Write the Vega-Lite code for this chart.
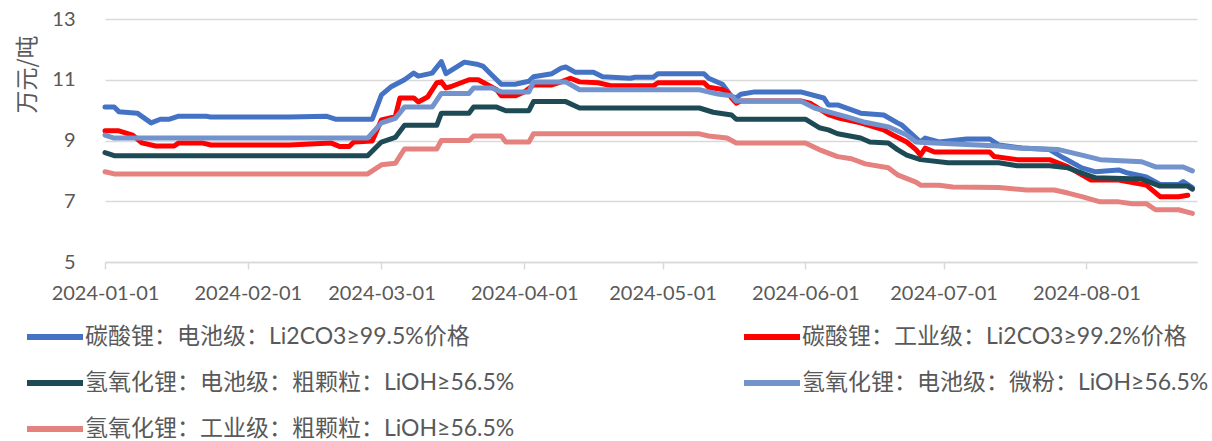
{
  "$schema": "https://vega.github.io/schema/vega-lite/v6.json",
  "width": 1092,
  "height": 243,
  "autosize": {"type": "none"},
  "padding": {"left": 105, "top": 19, "right": 15, "bottom": 179},
  "background": "white",
  "config": {"view": {"stroke": null}},
  "data": {"values": [
    {"series":"碳酸锂：电池级：Li2CO3≥99.5%价格","date":"2024-01-01","price":10.1},
    {"series":"碳酸锂：电池级：Li2CO3≥99.5%价格","date":"2024-01-03","price":10.1},
    {"series":"碳酸锂：电池级：Li2CO3≥99.5%价格","date":"2024-01-04","price":9.95},
    {"series":"碳酸锂：电池级：Li2CO3≥99.5%价格","date":"2024-01-08","price":9.9},
    {"series":"碳酸锂：电池级：Li2CO3≥99.5%价格","date":"2024-01-11","price":9.58},
    {"series":"碳酸锂：电池级：Li2CO3≥99.5%价格","date":"2024-01-13","price":9.7},
    {"series":"碳酸锂：电池级：Li2CO3≥99.5%价格","date":"2024-01-15","price":9.7},
    {"series":"碳酸锂：电池级：Li2CO3≥99.5%价格","date":"2024-01-17","price":9.8},
    {"series":"碳酸锂：电池级：Li2CO3≥99.5%价格","date":"2024-01-23","price":9.8},
    {"series":"碳酸锂：电池级：Li2CO3≥99.5%价格","date":"2024-01-24","price":9.77},
    {"series":"碳酸锂：电池级：Li2CO3≥99.5%价格","date":"2024-02-10","price":9.77},
    {"series":"碳酸锂：电池级：Li2CO3≥99.5%价格","date":"2024-02-18","price":9.8},
    {"series":"碳酸锂：电池级：Li2CO3≥99.5%价格","date":"2024-02-20","price":9.7},
    {"series":"碳酸锂：电池级：Li2CO3≥99.5%价格","date":"2024-02-28","price":9.7},
    {"series":"碳酸锂：电池级：Li2CO3≥99.5%价格","date":"2024-02-29","price":10.1},
    {"series":"碳酸锂：电池级：Li2CO3≥99.5%价格","date":"2024-03-01","price":10.5},
    {"series":"碳酸锂：电池级：Li2CO3≥99.5%价格","date":"2024-03-03","price":10.76},
    {"series":"碳酸锂：电池级：Li2CO3≥99.5%价格","date":"2024-03-06","price":11.0},
    {"series":"碳酸锂：电池级：Li2CO3≥99.5%价格","date":"2024-03-08","price":11.22},
    {"series":"碳酸锂：电池级：Li2CO3≥99.5%价格","date":"2024-03-09","price":11.12},
    {"series":"碳酸锂：电池级：Li2CO3≥99.5%价格","date":"2024-03-12","price":11.22},
    {"series":"碳酸锂：电池级：Li2CO3≥99.5%价格","date":"2024-03-14","price":11.6},
    {"series":"碳酸锂：电池级：Li2CO3≥99.5%价格","date":"2024-03-15","price":11.2},
    {"series":"碳酸锂：电池级：Li2CO3≥99.5%价格","date":"2024-03-19","price":11.58},
    {"series":"碳酸锂：电池级：Li2CO3≥99.5%价格","date":"2024-03-22","price":11.5},
    {"series":"碳酸锂：电池级：Li2CO3≥99.5%价格","date":"2024-03-23","price":11.45},
    {"series":"碳酸锂：电池级：Li2CO3≥99.5%价格","date":"2024-03-25","price":11.15},
    {"series":"碳酸锂：电池级：Li2CO3≥99.5%价格","date":"2024-03-27","price":10.85},
    {"series":"碳酸锂：电池级：Li2CO3≥99.5%价格","date":"2024-03-30","price":10.85},
    {"series":"碳酸锂：电池级：Li2CO3≥99.5%价格","date":"2024-04-02","price":10.95},
    {"series":"碳酸锂：电池级：Li2CO3≥99.5%价格","date":"2024-04-03","price":11.1},
    {"series":"碳酸锂：电池级：Li2CO3≥99.5%价格","date":"2024-04-07","price":11.2},
    {"series":"碳酸锂：电池级：Li2CO3≥99.5%价格","date":"2024-04-09","price":11.38},
    {"series":"碳酸锂：电池级：Li2CO3≥99.5%价格","date":"2024-04-10","price":11.42},
    {"series":"碳酸锂：电池级：Li2CO3≥99.5%价格","date":"2024-04-12","price":11.25},
    {"series":"碳酸锂：电池级：Li2CO3≥99.5%价格","date":"2024-04-16","price":11.25},
    {"series":"碳酸锂：电池级：Li2CO3≥99.5%价格","date":"2024-04-18","price":11.1},
    {"series":"碳酸锂：电池级：Li2CO3≥99.5%价格","date":"2024-04-24","price":11.05},
    {"series":"碳酸锂：电池级：Li2CO3≥99.5%价格","date":"2024-04-25","price":11.08},
    {"series":"碳酸锂：电池级：Li2CO3≥99.5%价格","date":"2024-04-29","price":11.08},
    {"series":"碳酸锂：电池级：Li2CO3≥99.5%价格","date":"2024-04-30","price":11.2},
    {"series":"碳酸锂：电池级：Li2CO3≥99.5%价格","date":"2024-05-10","price":11.2},
    {"series":"碳酸锂：电池级：Li2CO3≥99.5%价格","date":"2024-05-11","price":11.05},
    {"series":"碳酸锂：电池级：Li2CO3≥99.5%价格","date":"2024-05-14","price":10.85},
    {"series":"碳酸锂：电池级：Li2CO3≥99.5%价格","date":"2024-05-16","price":10.45},
    {"series":"碳酸锂：电池级：Li2CO3≥99.5%价格","date":"2024-05-17","price":10.4},
    {"series":"碳酸锂：电池级：Li2CO3≥99.5%价格","date":"2024-05-18","price":10.52},
    {"series":"碳酸锂：电池级：Li2CO3≥99.5%价格","date":"2024-05-21","price":10.6},
    {"series":"碳酸锂：电池级：Li2CO3≥99.5%价格","date":"2024-05-31","price":10.6},
    {"series":"碳酸锂：电池级：Li2CO3≥99.5%价格","date":"2024-06-05","price":10.4},
    {"series":"碳酸锂：电池级：Li2CO3≥99.5%价格","date":"2024-06-06","price":10.17},
    {"series":"碳酸锂：电池级：Li2CO3≥99.5%价格","date":"2024-06-08","price":10.17},
    {"series":"碳酸锂：电池级：Li2CO3≥99.5%价格","date":"2024-06-13","price":9.9},
    {"series":"碳酸锂：电池级：Li2CO3≥99.5%价格","date":"2024-06-18","price":9.84},
    {"series":"碳酸锂：电池级：Li2CO3≥99.5%价格","date":"2024-06-21","price":9.58},
    {"series":"碳酸锂：电池级：Li2CO3≥99.5%价格","date":"2024-06-22","price":9.5},
    {"series":"碳酸锂：电池级：Li2CO3≥99.5%价格","date":"2024-06-26","price":8.95},
    {"series":"碳酸锂：电池级：Li2CO3≥99.5%价格","date":"2024-06-27","price":9.08},
    {"series":"碳酸锂：电池级：Li2CO3≥99.5%价格","date":"2024-06-30","price":8.95},
    {"series":"碳酸锂：电池级：Li2CO3≥99.5%价格","date":"2024-07-06","price":9.05},
    {"series":"碳酸锂：电池级：Li2CO3≥99.5%价格","date":"2024-07-11","price":9.05},
    {"series":"碳酸锂：电池级：Li2CO3≥99.5%价格","date":"2024-07-13","price":8.85},
    {"series":"碳酸锂：电池级：Li2CO3≥99.5%价格","date":"2024-07-18","price":8.75},
    {"series":"碳酸锂：电池级：Li2CO3≥99.5%价格","date":"2024-07-24","price":8.7},
    {"series":"碳酸锂：电池级：Li2CO3≥99.5%价格","date":"2024-07-27","price":8.43},
    {"series":"碳酸锂：电池级：Li2CO3≥99.5%价格","date":"2024-07-31","price":8.1},
    {"series":"碳酸锂：电池级：Li2CO3≥99.5%价格","date":"2024-08-03","price":7.97},
    {"series":"碳酸锂：电池级：Li2CO3≥99.5%价格","date":"2024-08-08","price":8.03},
    {"series":"碳酸锂：电池级：Li2CO3≥99.5%价格","date":"2024-08-10","price":7.93},
    {"series":"碳酸锂：电池级：Li2CO3≥99.5%价格","date":"2024-08-14","price":7.8},
    {"series":"碳酸锂：电池级：Li2CO3≥99.5%价格","date":"2024-08-17","price":7.55},
    {"series":"碳酸锂：电池级：Li2CO3≥99.5%价格","date":"2024-08-21","price":7.55},
    {"series":"碳酸锂：电池级：Li2CO3≥99.5%价格","date":"2024-08-22","price":7.65},
    {"series":"碳酸锂：电池级：Li2CO3≥99.5%价格","date":"2024-08-24","price":7.45},

    {"series":"碳酸锂：工业级：Li2CO3≥99.2%价格","date":"2024-01-01","price":9.32},
    {"series":"碳酸锂：工业级：Li2CO3≥99.2%价格","date":"2024-01-04","price":9.32},
    {"series":"碳酸锂：工业级：Li2CO3≥99.2%价格","date":"2024-01-07","price":9.18},
    {"series":"碳酸锂：工业级：Li2CO3≥99.2%价格","date":"2024-01-09","price":8.92},
    {"series":"碳酸锂：工业级：Li2CO3≥99.2%价格","date":"2024-01-12","price":8.82},
    {"series":"碳酸锂：工业级：Li2CO3≥99.2%价格","date":"2024-01-16","price":8.82},
    {"series":"碳酸锂：工业级：Li2CO3≥99.2%价格","date":"2024-01-17","price":8.92},
    {"series":"碳酸锂：工业级：Li2CO3≥99.2%价格","date":"2024-01-22","price":8.92},
    {"series":"碳酸锂：工业级：Li2CO3≥99.2%价格","date":"2024-01-24","price":8.85},
    {"series":"碳酸锂：工业级：Li2CO3≥99.2%价格","date":"2024-02-10","price":8.85},
    {"series":"碳酸锂：工业级：Li2CO3≥99.2%价格","date":"2024-02-19","price":8.92},
    {"series":"碳酸锂：工业级：Li2CO3≥99.2%价格","date":"2024-02-21","price":8.8},
    {"series":"碳酸锂：工业级：Li2CO3≥99.2%价格","date":"2024-02-23","price":8.8},
    {"series":"碳酸锂：工业级：Li2CO3≥99.2%价格","date":"2024-02-24","price":8.95},
    {"series":"碳酸锂：工业级：Li2CO3≥99.2%价格","date":"2024-02-28","price":8.98},
    {"series":"碳酸锂：工业级：Li2CO3≥99.2%价格","date":"2024-03-01","price":9.68},
    {"series":"碳酸锂：工业级：Li2CO3≥99.2%价格","date":"2024-03-04","price":9.78},
    {"series":"碳酸锂：工业级：Li2CO3≥99.2%价格","date":"2024-03-05","price":10.4},
    {"series":"碳酸锂：工业级：Li2CO3≥99.2%价格","date":"2024-03-08","price":10.4},
    {"series":"碳酸锂：工业级：Li2CO3≥99.2%价格","date":"2024-03-09","price":10.27},
    {"series":"碳酸锂：工业级：Li2CO3≥99.2%价格","date":"2024-03-11","price":10.43},
    {"series":"碳酸锂：工业级：Li2CO3≥99.2%价格","date":"2024-03-13","price":10.9},
    {"series":"碳酸锂：工业级：Li2CO3≥99.2%价格","date":"2024-03-14","price":10.93},
    {"series":"碳酸锂：工业级：Li2CO3≥99.2%价格","date":"2024-03-15","price":10.73},
    {"series":"碳酸锂：工业级：Li2CO3≥99.2%价格","date":"2024-03-16","price":10.77},
    {"series":"碳酸锂：工业级：Li2CO3≥99.2%价格","date":"2024-03-20","price":11.0},
    {"series":"碳酸锂：工业级：Li2CO3≥99.2%价格","date":"2024-03-22","price":11.0},
    {"series":"碳酸锂：工业级：Li2CO3≥99.2%价格","date":"2024-03-26","price":10.67},
    {"series":"碳酸锂：工业级：Li2CO3≥99.2%价格","date":"2024-03-27","price":10.47},
    {"series":"碳酸锂：工业级：Li2CO3≥99.2%价格","date":"2024-03-30","price":10.47},
    {"series":"碳酸锂：工业级：Li2CO3≥99.2%价格","date":"2024-04-01","price":10.6},
    {"series":"碳酸锂：工业级：Li2CO3≥99.2%价格","date":"2024-04-03","price":10.83},
    {"series":"碳酸锂：工业级：Li2CO3≥99.2%价格","date":"2024-04-07","price":10.83},
    {"series":"碳酸锂：工业级：Li2CO3≥99.2%价格","date":"2024-04-09","price":10.93},
    {"series":"碳酸锂：工业级：Li2CO3≥99.2%价格","date":"2024-04-11","price":11.05},
    {"series":"碳酸锂：工业级：Li2CO3≥99.2%价格","date":"2024-04-13","price":10.93},
    {"series":"碳酸锂：工业级：Li2CO3≥99.2%价格","date":"2024-04-17","price":10.9},
    {"series":"碳酸锂：工业级：Li2CO3≥99.2%价格","date":"2024-04-20","price":10.8},
    {"series":"碳酸锂：工业级：Li2CO3≥99.2%价格","date":"2024-04-29","price":10.8},
    {"series":"碳酸锂：工业级：Li2CO3≥99.2%价格","date":"2024-04-30","price":10.9},
    {"series":"碳酸锂：工业级：Li2CO3≥99.2%价格","date":"2024-05-10","price":10.9},
    {"series":"碳酸锂：工业级：Li2CO3≥99.2%价格","date":"2024-05-11","price":10.75},
    {"series":"碳酸锂：工业级：Li2CO3≥99.2%价格","date":"2024-05-14","price":10.68},
    {"series":"碳酸锂：工业级：Li2CO3≥99.2%价格","date":"2024-05-15","price":10.6},
    {"series":"碳酸锂：工业级：Li2CO3≥99.2%价格","date":"2024-05-16","price":10.4},
    {"series":"碳酸锂：工业级：Li2CO3≥99.2%价格","date":"2024-05-17","price":10.23},
    {"series":"碳酸锂：工业级：Li2CO3≥99.2%价格","date":"2024-05-18","price":10.3},
    {"series":"碳酸锂：工业级：Li2CO3≥99.2%价格","date":"2024-05-31","price":10.3},
    {"series":"碳酸锂：工业级：Li2CO3≥99.2%价格","date":"2024-06-02","price":10.23},
    {"series":"碳酸锂：工业级：Li2CO3≥99.2%价格","date":"2024-06-06","price":9.85},
    {"series":"碳酸锂：工业级：Li2CO3≥99.2%价格","date":"2024-06-08","price":9.75},
    {"series":"碳酸锂：工业级：Li2CO3≥99.2%价格","date":"2024-06-13","price":9.58},
    {"series":"碳酸锂：工业级：Li2CO3≥99.2%价格","date":"2024-06-18","price":9.35},
    {"series":"碳酸锂：工业级：Li2CO3≥99.2%价格","date":"2024-06-20","price":9.18},
    {"series":"碳酸锂：工业级：Li2CO3≥99.2%价格","date":"2024-06-23","price":8.95},
    {"series":"碳酸锂：工业级：Li2CO3≥99.2%价格","date":"2024-06-25","price":8.7},
    {"series":"碳酸锂：工业级：Li2CO3≥99.2%价格","date":"2024-06-26","price":8.52},
    {"series":"碳酸锂：工业级：Li2CO3≥99.2%价格","date":"2024-06-27","price":8.75},
    {"series":"碳酸锂：工业级：Li2CO3≥99.2%价格","date":"2024-06-29","price":8.62},
    {"series":"碳酸锂：工业级：Li2CO3≥99.2%价格","date":"2024-07-11","price":8.62},
    {"series":"碳酸锂：工业级：Li2CO3≥99.2%价格","date":"2024-07-12","price":8.47},
    {"series":"碳酸锂：工业级：Li2CO3≥99.2%价格","date":"2024-07-17","price":8.37},
    {"series":"碳酸锂：工业级：Li2CO3≥99.2%价格","date":"2024-07-24","price":8.37},
    {"series":"碳酸锂：工业级：Li2CO3≥99.2%价格","date":"2024-07-28","price":8.13},
    {"series":"碳酸锂：工业级：Li2CO3≥99.2%价格","date":"2024-08-02","price":7.7},
    {"series":"碳酸锂：工业级：Li2CO3≥99.2%价格","date":"2024-08-08","price":7.7},
    {"series":"碳酸锂：工业级：Li2CO3≥99.2%价格","date":"2024-08-14","price":7.53},
    {"series":"碳酸锂：工业级：Li2CO3≥99.2%价格","date":"2024-08-17","price":7.15},
    {"series":"碳酸锂：工业级：Li2CO3≥99.2%价格","date":"2024-08-21","price":7.15},
    {"series":"碳酸锂：工业级：Li2CO3≥99.2%价格","date":"2024-08-23","price":7.2},

    {"series":"氢氧化锂：电池级：粗颗粒：LiOH≥56.5%","date":"2024-01-01","price":8.6},
    {"series":"氢氧化锂：电池级：粗颗粒：LiOH≥56.5%","date":"2024-01-03","price":8.5},
    {"series":"氢氧化锂：电池级：粗颗粒：LiOH≥56.5%","date":"2024-02-27","price":8.5},
    {"series":"氢氧化锂：电池级：粗颗粒：LiOH≥56.5%","date":"2024-03-01","price":8.95},
    {"series":"氢氧化锂：电池级：粗颗粒：LiOH≥56.5%","date":"2024-03-04","price":9.1},
    {"series":"氢氧化锂：电池级：粗颗粒：LiOH≥56.5%","date":"2024-03-06","price":9.5},
    {"series":"氢氧化锂：电池级：粗颗粒：LiOH≥56.5%","date":"2024-03-13","price":9.5},
    {"series":"氢氧化锂：电池级：粗颗粒：LiOH≥56.5%","date":"2024-03-14","price":9.9},
    {"series":"氢氧化锂：电池级：粗颗粒：LiOH≥56.5%","date":"2024-03-20","price":9.9},
    {"series":"氢氧化锂：电池级：粗颗粒：LiOH≥56.5%","date":"2024-03-21","price":10.1},
    {"series":"氢氧化锂：电池级：粗颗粒：LiOH≥56.5%","date":"2024-03-26","price":10.1},
    {"series":"氢氧化锂：电池级：粗颗粒：LiOH≥56.5%","date":"2024-03-28","price":9.98},
    {"series":"氢氧化锂：电池级：粗颗粒：LiOH≥56.5%","date":"2024-04-02","price":9.98},
    {"series":"氢氧化锂：电池级：粗颗粒：LiOH≥56.5%","date":"2024-04-03","price":10.28},
    {"series":"氢氧化锂：电池级：粗颗粒：LiOH≥56.5%","date":"2024-04-10","price":10.28},
    {"series":"氢氧化锂：电池级：粗颗粒：LiOH≥56.5%","date":"2024-04-13","price":10.07},
    {"series":"氢氧化锂：电池级：粗颗粒：LiOH≥56.5%","date":"2024-05-09","price":10.07},
    {"series":"氢氧化锂：电池级：粗颗粒：LiOH≥56.5%","date":"2024-05-12","price":9.93},
    {"series":"氢氧化锂：电池级：粗颗粒：LiOH≥56.5%","date":"2024-05-16","price":9.84},
    {"series":"氢氧化锂：电池级：粗颗粒：LiOH≥56.5%","date":"2024-05-17","price":9.7},
    {"series":"氢氧化锂：电池级：粗颗粒：LiOH≥56.5%","date":"2024-06-01","price":9.7},
    {"series":"氢氧化锂：电池级：粗颗粒：LiOH≥56.5%","date":"2024-06-04","price":9.42},
    {"series":"氢氧化锂：电池级：粗颗粒：LiOH≥56.5%","date":"2024-06-06","price":9.35},
    {"series":"氢氧化锂：电池级：粗颗粒：LiOH≥56.5%","date":"2024-06-08","price":9.22},
    {"series":"氢氧化锂：电池级：粗颗粒：LiOH≥56.5%","date":"2024-06-13","price":9.08},
    {"series":"氢氧化锂：电池级：粗颗粒：LiOH≥56.5%","date":"2024-06-15","price":8.95},
    {"series":"氢氧化锂：电池级：粗颗粒：LiOH≥56.5%","date":"2024-06-19","price":8.92},
    {"series":"氢氧化锂：电池级：粗颗粒：LiOH≥56.5%","date":"2024-06-21","price":8.7},
    {"series":"氢氧化锂：电池级：粗颗粒：LiOH≥56.5%","date":"2024-06-23","price":8.52},
    {"series":"氢氧化锂：电池级：粗颗粒：LiOH≥56.5%","date":"2024-06-26","price":8.37},
    {"series":"氢氧化锂：电池级：粗颗粒：LiOH≥56.5%","date":"2024-07-02","price":8.27},
    {"series":"氢氧化锂：电池级：粗颗粒：LiOH≥56.5%","date":"2024-07-13","price":8.27},
    {"series":"氢氧化锂：电池级：粗颗粒：LiOH≥56.5%","date":"2024-07-17","price":8.17},
    {"series":"氢氧化锂：电池级：粗颗粒：LiOH≥56.5%","date":"2024-07-24","price":8.17},
    {"series":"氢氧化锂：电池级：粗颗粒：LiOH≥56.5%","date":"2024-07-28","price":8.1},
    {"series":"氢氧化锂：电池级：粗颗粒：LiOH≥56.5%","date":"2024-07-31","price":7.93},
    {"series":"氢氧化锂：电池级：粗颗粒：LiOH≥56.5%","date":"2024-08-03","price":7.77},
    {"series":"氢氧化锂：电池级：粗颗粒：LiOH≥56.5%","date":"2024-08-13","price":7.73},
    {"series":"氢氧化锂：电池级：粗颗粒：LiOH≥56.5%","date":"2024-08-17","price":7.5},
    {"series":"氢氧化锂：电池级：粗颗粒：LiOH≥56.5%","date":"2024-08-23","price":7.5},
    {"series":"氢氧化锂：电池级：粗颗粒：LiOH≥56.5%","date":"2024-08-24","price":7.4},

    {"series":"氢氧化锂：电池级：微粉：LiOH≥56.5%","date":"2024-01-01","price":9.18},
    {"series":"氢氧化锂：电池级：微粉：LiOH≥56.5%","date":"2024-01-03","price":9.08},
    {"series":"氢氧化锂：电池级：微粉：LiOH≥56.5%","date":"2024-02-27","price":9.08},
    {"series":"氢氧化锂：电池级：微粉：LiOH≥56.5%","date":"2024-03-01","price":9.58},
    {"series":"氢氧化锂：电池级：微粉：LiOH≥56.5%","date":"2024-03-04","price":9.73},
    {"series":"氢氧化锂：电池级：微粉：LiOH≥56.5%","date":"2024-03-06","price":10.1},
    {"series":"氢氧化锂：电池级：微粉：LiOH≥56.5%","date":"2024-03-12","price":10.1},
    {"series":"氢氧化锂：电池级：微粉：LiOH≥56.5%","date":"2024-03-14","price":10.55},
    {"series":"氢氧化锂：电池级：微粉：LiOH≥56.5%","date":"2024-03-20","price":10.55},
    {"series":"氢氧化锂：电池级：微粉：LiOH≥56.5%","date":"2024-03-21","price":10.73},
    {"series":"氢氧化锂：电池级：微粉：LiOH≥56.5%","date":"2024-03-25","price":10.73},
    {"series":"氢氧化锂：电池级：微粉：LiOH≥56.5%","date":"2024-03-27","price":10.6},
    {"series":"氢氧化锂：电池级：微粉：LiOH≥56.5%","date":"2024-04-02","price":10.6},
    {"series":"氢氧化锂：电池级：微粉：LiOH≥56.5%","date":"2024-04-03","price":10.93},
    {"series":"氢氧化锂：电池级：微粉：LiOH≥56.5%","date":"2024-04-10","price":10.93},
    {"series":"氢氧化锂：电池级：微粉：LiOH≥56.5%","date":"2024-04-13","price":10.67},
    {"series":"氢氧化锂：电池级：微粉：LiOH≥56.5%","date":"2024-05-09","price":10.67},
    {"series":"氢氧化锂：电池级：微粉：LiOH≥56.5%","date":"2024-05-13","price":10.53},
    {"series":"氢氧化锂：电池级：微粉：LiOH≥56.5%","date":"2024-05-16","price":10.47},
    {"series":"氢氧化锂：电池级：微粉：LiOH≥56.5%","date":"2024-05-17","price":10.3},
    {"series":"氢氧化锂：电池级：微粉：LiOH≥56.5%","date":"2024-05-31","price":10.3},
    {"series":"氢氧化锂：电池级：微粉：LiOH≥56.5%","date":"2024-06-03","price":10.07},
    {"series":"氢氧化锂：电池级：微粉：LiOH≥56.5%","date":"2024-06-07","price":9.9},
    {"series":"氢氧化锂：电池级：微粉：LiOH≥56.5%","date":"2024-06-10","price":9.78},
    {"series":"氢氧化锂：电池级：微粉：LiOH≥56.5%","date":"2024-06-14","price":9.6},
    {"series":"氢氧化锂：电池级：微粉：LiOH≥56.5%","date":"2024-06-19","price":9.45},
    {"series":"氢氧化锂：电池级：微粉：LiOH≥56.5%","date":"2024-06-23","price":9.18},
    {"series":"氢氧化锂：电池级：微粉：LiOH≥56.5%","date":"2024-06-25","price":8.95},
    {"series":"氢氧化锂：电池级：微粉：LiOH≥56.5%","date":"2024-06-29","price":8.92},
    {"series":"氢氧化锂：电池级：微粉：LiOH≥56.5%","date":"2024-07-13","price":8.82},
    {"series":"氢氧化锂：电池级：微粉：LiOH≥56.5%","date":"2024-07-17","price":8.75},
    {"series":"氢氧化锂：电池级：微粉：LiOH≥56.5%","date":"2024-07-26","price":8.7},
    {"series":"氢氧化锂：电池级：微粉：LiOH≥56.5%","date":"2024-07-31","price":8.52},
    {"series":"氢氧化锂：电池级：微粉：LiOH≥56.5%","date":"2024-08-04","price":8.37},
    {"series":"氢氧化锂：电池级：微粉：LiOH≥56.5%","date":"2024-08-13","price":8.3},
    {"series":"氢氧化锂：电池级：微粉：LiOH≥56.5%","date":"2024-08-16","price":8.13},
    {"series":"氢氧化锂：电池级：微粉：LiOH≥56.5%","date":"2024-08-22","price":8.13},
    {"series":"氢氧化锂：电池级：微粉：LiOH≥56.5%","date":"2024-08-24","price":8.0},

    {"series":"氢氧化锂：工业级：粗颗粒：LiOH≥56.5%","date":"2024-01-01","price":7.97},
    {"series":"氢氧化锂：工业级：粗颗粒：LiOH≥56.5%","date":"2024-01-03","price":7.9},
    {"series":"氢氧化锂：工业级：粗颗粒：LiOH≥56.5%","date":"2024-02-27","price":7.9},
    {"series":"氢氧化锂：工业级：粗颗粒：LiOH≥56.5%","date":"2024-03-01","price":8.2},
    {"series":"氢氧化锂：工业级：粗颗粒：LiOH≥56.5%","date":"2024-03-04","price":8.25},
    {"series":"氢氧化锂：工业级：粗颗粒：LiOH≥56.5%","date":"2024-03-06","price":8.72},
    {"series":"氢氧化锂：工业级：粗颗粒：LiOH≥56.5%","date":"2024-03-13","price":8.72},
    {"series":"氢氧化锂：工业级：粗颗粒：LiOH≥56.5%","date":"2024-03-14","price":9.0},
    {"series":"氢氧化锂：工业级：粗颗粒：LiOH≥56.5%","date":"2024-03-20","price":9.0},
    {"series":"氢氧化锂：工业级：粗颗粒：LiOH≥56.5%","date":"2024-03-21","price":9.15},
    {"series":"氢氧化锂：工业级：粗颗粒：LiOH≥56.5%","date":"2024-03-27","price":9.15},
    {"series":"氢氧化锂：工业级：粗颗粒：LiOH≥56.5%","date":"2024-03-28","price":8.95},
    {"series":"氢氧化锂：工业级：粗颗粒：LiOH≥56.5%","date":"2024-04-02","price":8.95},
    {"series":"氢氧化锂：工业级：粗颗粒：LiOH≥56.5%","date":"2024-04-03","price":9.22},
    {"series":"氢氧化锂：工业级：粗颗粒：LiOH≥56.5%","date":"2024-05-09","price":9.22},
    {"series":"氢氧化锂：工业级：粗颗粒：LiOH≥56.5%","date":"2024-05-11","price":9.15},
    {"series":"氢氧化锂：工业级：粗颗粒：LiOH≥56.5%","date":"2024-05-15","price":9.08},
    {"series":"氢氧化锂：工业级：粗颗粒：LiOH≥56.5%","date":"2024-05-17","price":8.92},
    {"series":"氢氧化锂：工业级：粗颗粒：LiOH≥56.5%","date":"2024-06-01","price":8.92},
    {"series":"氢氧化锂：工业级：粗颗粒：LiOH≥56.5%","date":"2024-06-04","price":8.7},
    {"series":"氢氧化锂：工业级：粗颗粒：LiOH≥56.5%","date":"2024-06-08","price":8.47},
    {"series":"氢氧化锂：工业级：粗颗粒：LiOH≥56.5%","date":"2024-06-11","price":8.4},
    {"series":"氢氧化锂：工业级：粗颗粒：LiOH≥56.5%","date":"2024-06-14","price":8.23},
    {"series":"氢氧化锂：工业级：粗颗粒：LiOH≥56.5%","date":"2024-06-19","price":8.1},
    {"series":"氢氧化锂：工业级：粗颗粒：LiOH≥56.5%","date":"2024-06-21","price":7.87},
    {"series":"氢氧化锂：工业级：粗颗粒：LiOH≥56.5%","date":"2024-06-25","price":7.63},
    {"series":"氢氧化锂：工业级：粗颗粒：LiOH≥56.5%","date":"2024-06-26","price":7.53},
    {"series":"氢氧化锂：工业级：粗颗粒：LiOH≥56.5%","date":"2024-06-30","price":7.53},
    {"series":"氢氧化锂：工业级：粗颗粒：LiOH≥56.5%","date":"2024-07-03","price":7.47},
    {"series":"氢氧化锂：工业级：粗颗粒：LiOH≥56.5%","date":"2024-07-13","price":7.45},
    {"series":"氢氧化锂：工业级：粗颗粒：LiOH≥56.5%","date":"2024-07-19","price":7.37},
    {"series":"氢氧化锂：工业级：粗颗粒：LiOH≥56.5%","date":"2024-07-25","price":7.37},
    {"series":"氢氧化锂：工业级：粗颗粒：LiOH≥56.5%","date":"2024-07-28","price":7.27},
    {"series":"氢氧化锂：工业级：粗颗粒：LiOH≥56.5%","date":"2024-07-31","price":7.15},
    {"series":"氢氧化锂：工业级：粗颗粒：LiOH≥56.5%","date":"2024-08-04","price":6.98},
    {"series":"氢氧化锂：工业级：粗颗粒：LiOH≥56.5%","date":"2024-08-08","price":6.98},
    {"series":"氢氧化锂：工业级：粗颗粒：LiOH≥56.5%","date":"2024-08-11","price":6.92},
    {"series":"氢氧化锂：工业级：粗颗粒：LiOH≥56.5%","date":"2024-08-14","price":6.92},
    {"series":"氢氧化锂：工业级：粗颗粒：LiOH≥56.5%","date":"2024-08-16","price":6.72},
    {"series":"氢氧化锂：工业级：粗颗粒：LiOH≥56.5%","date":"2024-08-21","price":6.72},
    {"series":"氢氧化锂：工业级：粗颗粒：LiOH≥56.5%","date":"2024-08-24","price":6.6}
  ]},
  "mark": {"type": "line", "strokeWidth": 5, "strokeJoin": "round", "strokeCap": "round"},
  "encoding": {
    "x": {
      "field": "date", "type": "temporal",
      "scale": {"type": "utc", "nice": false, "domain": [{"year": 2024, "month": 1, "date": 1, "utc": true}, {"year": 2024, "month": 8, "date": 25, "utc": true}]},
      "axis": {
        "title": null,
        "values": [
          {"year": 2024, "month": 1, "date": 1, "utc": true},
          {"year": 2024, "month": 2, "date": 1, "utc": true},
          {"year": 2024, "month": 3, "date": 1, "utc": true},
          {"year": 2024, "month": 4, "date": 1, "utc": true},
          {"year": 2024, "month": 5, "date": 1, "utc": true},
          {"year": 2024, "month": 6, "date": 1, "utc": true},
          {"year": 2024, "month": 7, "date": 1, "utc": true},
          {"year": 2024, "month": 8, "date": 1, "utc": true}
        ],
        "format": "%Y-%m-%d",
        "grid": false,
        "domain": true, "domainColor": "#d9d9d9", "domainWidth": 1.5,
        "ticks": true, "tickColor": "#d9d9d9", "tickWidth": 1.5, "tickSize": 7,
        "labelPadding": 14, "labelFont": "Lato", "labelFontSize": 20,
        "labelColor": "#595959", "labelAlign": "center", "labelBaseline": "top",
        "labelOverlap": false, "labelFlush": false
      }
    },
    "y": {
      "field": "price", "type": "quantitative",
      "scale": {"domain": [5, 13], "nice": false, "zero": false},
      "axis": {
        "title": "万元/吨", "titleFont": "Noto Sans CJK SC", "titleFontSize": 23, "titleFontWeight": "normal",
        "titleColor": "#595959", "titleAnchor": "middle", "titleX": -66, "titleY": 55,
        "values": [5, 7, 9, 11, 13],
        "grid": true, "gridColor": "#d9d9d9", "gridWidth": 1.5,
        "domain": false, "ticks": true, "tickSize": 24, "tickOpacity": 0,
        "labelPadding": 6, "labelFont": "Lato", "labelFontSize": 20, "labelColor": "#595959"
      }
    },
    "color": {
      "field": "series", "type": "nominal",
      "scale": {
        "domain": ["碳酸锂：电池级：Li2CO3≥99.5%价格", "碳酸锂：工业级：Li2CO3≥99.2%价格", "氢氧化锂：电池级：粗颗粒：LiOH≥56.5%", "氢氧化锂：电池级：微粉：LiOH≥56.5%", "氢氧化锂：工业级：粗颗粒：LiOH≥56.5%"],
        "range": ["#4472C4", "#FF0000", "#1E4A55", "#7293CB", "#E5817E"]
      },
      "legend": {
        "title": null, "orient": "none", "legendX": -81, "legendY": 287,
        "direction": "horizontal", "columns": 2, "columnPadding": 217, "rowPadding": 3,
        "symbolType": "stroke", "symbolSize": 3136, "symbolStrokeWidth": 6,
        "labelFont": "Lato, Noto Sans CJK SC", "labelFontSize": 23, "labelColor": "#595959",
        "labelOffset": -1, "labelLimit": 800, "padding": 0
      }
    }
  }
}
